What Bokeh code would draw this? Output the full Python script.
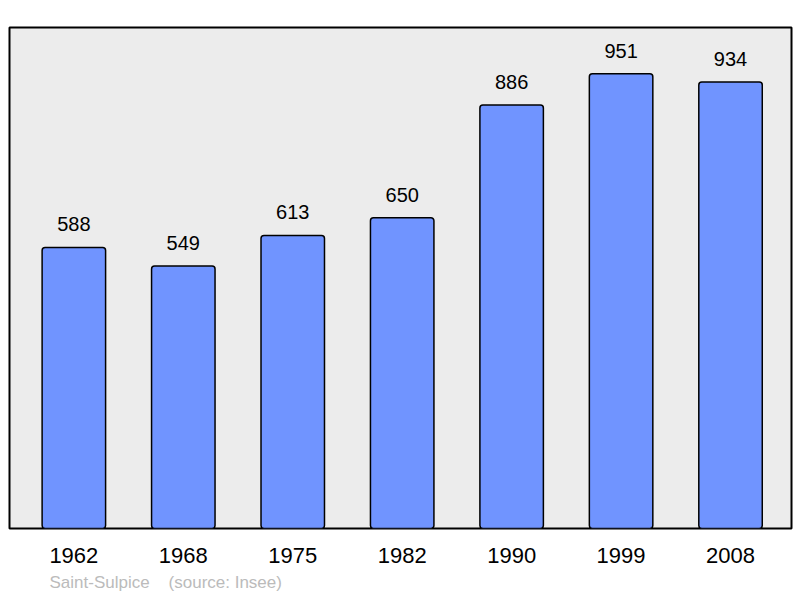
from bokeh.plotting import figure
from bokeh.models import Range1d, FixedTicker, Title, ColumnDataSource
from bokeh.core.properties import value
from bokeh.embed import file_html
from bokeh.resources import INLINE

years = ["1962", "1968", "1975", "1982", "1990", "1999", "2008"]
population = [588, 549, 613, 650, 886, 951, 934]
place = "Saint-Sulpice"
source_note = "(source: Insee)"

FONT = "Liberation Sans"
xs = list(range(len(years)))

src = ColumnDataSource(dict(x=xs, top=population, label=[str(v) for v in population]))

p = figure(width=800, height=598, output_backend="svg", toolbar_location=None,
           x_range=Range1d(-0.588, 6.557), y_range=Range1d(0, 1048),
           min_border_left=9, min_border_right=9, min_border_top=27, min_border_bottom=70)

p.background_fill_color = "#ececec"
p.border_fill_color = "white"
p.outline_line_color = "black"
p.outline_line_width = 2
p.grid.visible = False
p.yaxis.visible = False

p.vbar(x="x", top="top", bottom=0, width=0.58, source=src,
       fill_color="#7094ff", line_color="black", line_width=1.5, border_radius=3)

p.text(x="x", y="top", text="label", source=src, y_offset=-23,
       text_align="center", text_baseline="alphabetic",
       text_font=value(FONT), text_font_size="20px", text_color="black")

ax = p.xaxis[0]
ax.ticker = FixedTicker(ticks=xs)
ax.major_label_overrides = {i: y for i, y in zip(xs, years)}
ax.axis_line_color = None
ax.major_tick_line_color = None
ax.minor_tick_line_color = None
ax.major_tick_out = 0
ax.major_tick_in = 0
ax.major_label_standoff = 19
ax.major_label_text_font = FONT
ax.major_label_text_font_size = "22px"
ax.major_label_text_color = "black"

footer = Title(text=place + "\u00a0\u00a0\u00a0\u00a0" + source_note, align="left", offset=40,
               text_font=FONT, text_font_size="17px", text_color="#bbbbbb",
               text_font_style="normal", standoff=10)
p.add_layout(footer, "below")

open("out.html", "w").write(file_html(p, INLINE))
